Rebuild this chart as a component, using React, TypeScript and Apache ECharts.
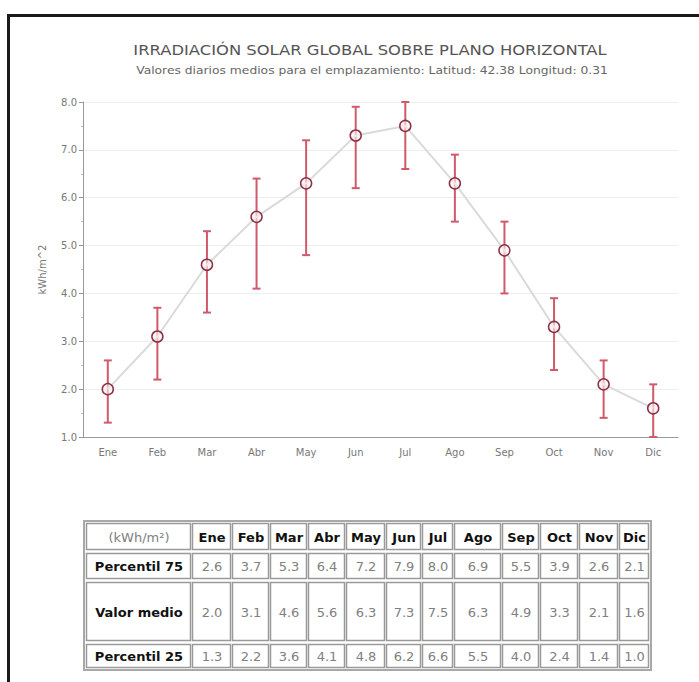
import React, { useEffect, useRef } from "react";
import * as echarts from "echarts";

const months = ["Ene", "Feb", "Mar", "Abr", "May", "Jun", "Jul", "Ago", "Sep", "Oct", "Nov", "Dic"];
const p75 = [2.6, 3.7, 5.3, 6.4, 7.2, 7.9, 8.0, 6.9, 5.5, 3.9, 2.6, 2.1];
const mean = [2.0, 3.1, 4.6, 5.6, 6.3, 7.3, 7.5, 6.3, 4.9, 3.3, 2.1, 1.6];
const p25 = [1.3, 2.2, 3.6, 4.1, 4.8, 6.2, 6.6, 5.5, 4.0, 2.4, 1.4, 1.0];
const rowLabels = ["Percentil 75", "Valor medio", "Percentil 25"];
const unitLabel = "(kWh/m²)";
const titleText = "IRRADIACIÓN SOLAR GLOBAL SOBRE PLANO HORIZONTAL";
const subtitleText = "Valores diarios medios para el emplazamiento: Latitud: 42.38 Longitud: 0.31";

// table layout (cell left/right edges and row top/bottom edges)
const colEdges: [number, number][] = [
  [86, 190], [192, 230], [232, 268], [270, 306], [308, 344], [346, 384], [386, 420],
  [422, 452], [454, 500], [502, 538], [540, 577], [579, 617], [619, 648],
];
const rowEdges: [number, number][] = [[523, 549], [553, 578], [582, 640], [644, 667]];

function buildTable(): any[] {
  const els: any[] = [];
  els.push({
    type: "rect",
    shape: { x: 84, y: 521, width: 567, height: 149 },
    style: { fill: "#fff", stroke: "#a8a8a8", lineWidth: 2 },
  });
  const rows: (string[])[] = [
    [unitLabel, ...months],
    [rowLabels[0], ...p75.map((v) => v.toFixed(1))],
    [rowLabels[1], ...mean.map((v) => v.toFixed(1))],
    [rowLabels[2], ...p25.map((v) => v.toFixed(1))],
  ];
  rows.forEach((row, r) => {
    const [y0, y1] = rowEdges[r];
    row.forEach((txt, c) => {
      const [x0, x1] = colEdges[c];
      els.push({
        type: "rect",
        shape: { x: x0 + 0.5, y: y0 + 0.5, width: x1 - x0, height: y1 - y0 },
        style: { fill: "#fff", stroke: "#9a9a9a", lineWidth: 1.5 },
      });
      const bold = (r === 0 && c > 0) || (r > 0 && c === 0);
      els.push({
        type: "text",
        x: (x0 + x1) / 2 + 1,
        y: (y0 + y1) / 2 + 1,
        style: {
          text: txt,
          textAlign: "center",
          textVerticalAlign: "middle",
          fill: bold ? "#111" : "#808080",
          font: bold ? "bold 13px 'DejaVu Sans', sans-serif" : "13px 'DejaVu Sans', sans-serif",
        },
      });
    });
  });
  return els;
}

export default function App() {
  const ref = useRef<HTMLDivElement>(null);
  useEffect(() => {
    if (!ref.current) return;
    const chart = echarts.init(ref.current, undefined, { renderer: "svg" });
    const errData = months.map((_, i) => [i, p25[i], p75[i]]);
    chart.setOption({
      animation: false,
      backgroundColor: "#fff",
      grid: { left: 83, right: 21, top: 102, bottom: 245 },
      xAxis: {
        type: "category",
        data: months,
        boundaryGap: true,
        axisLine: { lineStyle: { color: "#999" } },
        axisTick: { show: false },
        axisLabel: { color: "#777", fontFamily: "DejaVu Sans", fontSize: 10, margin: 10 },
      },
      yAxis: {
        type: "value",
        min: 1,
        max: 8,
        interval: 1,
        name: "kWh/m^2",
        nameLocation: "middle",
        nameGap: 36,
        nameTextStyle: { color: "#777", fontFamily: "DejaVu Sans", fontSize: 10 },
        axisLine: { show: true, lineStyle: { color: "#999" } },
        axisTick: { show: true, length: 4, lineStyle: { color: "#999" } },
        minorTick: { show: true, splitNumber: 2, length: 2, lineStyle: { color: "#bbb" } },
        axisLabel: {
          color: "#777",
          fontFamily: "DejaVu Sans",
          fontSize: 10,
          margin: 6,
          formatter: (v: number) => v.toFixed(1),
        },
        splitLine: { show: true, lineStyle: { color: "#eeeeee" } },
      },
      series: [
        {
          type: "custom",
          z: 2,
          data: errData,
          encode: { x: 0, y: [1, 2] },
          renderItem: (params: any, api: any) => {
            const i = api.value(0);
            const lo = api.coord([i, api.value(1)]);
            const hi = api.coord([i, api.value(2)]);
            const hw = 4;
            const style = { stroke: "#d05a6c", lineWidth: 2 };
            return {
              type: "group",
              children: [
                { type: "line", shape: { x1: lo[0], y1: lo[1], x2: hi[0], y2: hi[1] }, style },
                { type: "line", shape: { x1: hi[0] - hw, y1: hi[1], x2: hi[0] + hw, y2: hi[1] }, style },
                { type: "line", shape: { x1: lo[0] - hw, y1: lo[1], x2: lo[0] + hw, y2: lo[1] }, style },
              ],
            };
          },
        },
        {
          type: "line",
          z: 3,
          data: mean,
          symbol: "circle",
          symbolSize: 11,
          lineStyle: { color: "#dadada", width: 2 },
          itemStyle: { color: "rgba(255,240,242,0.6)", borderColor: "#8a3346", borderWidth: 1.5 },
        },
      ],
      graphic: [
        {
          type: "rect",
          z: 100,
          shape: { x: 8.5, y: 15.5, width: 760, height: 760 },
          style: { fill: "none", stroke: "#1a1a1a", lineWidth: 3 },
        },
        {
          type: "text",
          x: 370,
          y: 50,
          scaleX: 1.17,
          style: {
            text: titleText,
            textAlign: "center",
            textVerticalAlign: "middle",
            fill: "#555",
            font: "14px 'DejaVu Sans', sans-serif",
          },
        },
        {
          type: "text",
          x: 372,
          y: 70,
          scaleX: 1.12,
          style: {
            text: subtitleText,
            textAlign: "center",
            textVerticalAlign: "middle",
            fill: "#666",
            font: "11px 'DejaVu Sans', sans-serif",
          },
        },
        ...buildTable(),
      ],
    });
    return () => chart.dispose();
  }, []);
  return (
    <div
      ref={ref}
      style={{ position: "fixed", left: 0, top: 0, width: 699, height: 682, background: "#fff" }}
    />
  );
}
